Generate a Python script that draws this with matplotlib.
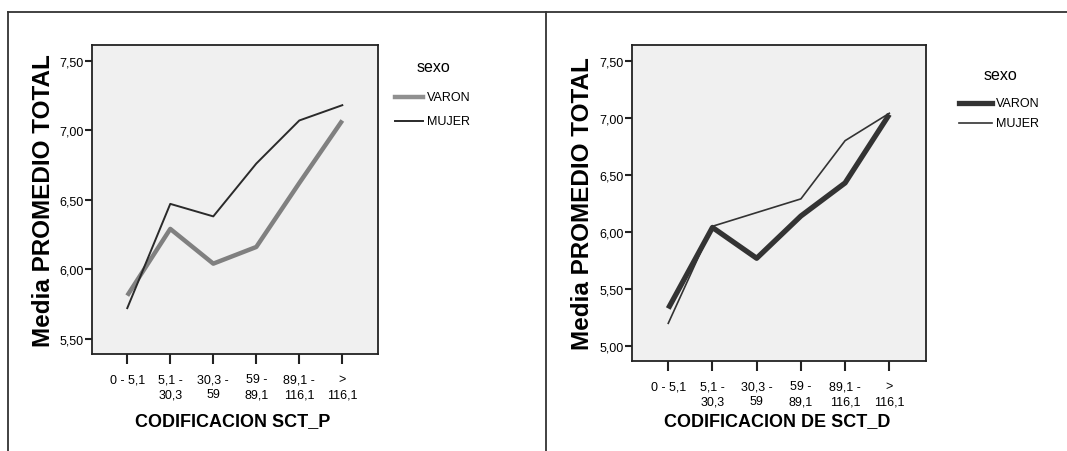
import matplotlib
matplotlib.use("Agg")
import matplotlib.pyplot as plt
from matplotlib.lines import Line2D

plt.rcParams['font.family'] = ['Liberation Sans', 'DejaVu Sans']

# categorias del eje x (iguales en los dos graficos)
categorias = ['0 - 5,1', '5,1 -\n30,3', '30,3 -\n59', '59 -\n89,1', '89,1 -\n116,1', '>\n116,1']
sexos = ['VARON', 'MUJER']

varon_p = [5.81, 6.29, 6.04, 6.16, 6.62, 7.07]
mujer_p = [5.72, 6.47, 6.38, 6.76, 7.07, 7.18]
yticks_p = [5.50, 6.00, 6.50, 7.00, 7.50]

varon_d = [5.33, 6.04, 5.77, 6.14, 6.43, 7.03]
mujer_d = [5.20, 6.05, 6.17, 6.29, 6.80, 7.04]
yticks_d = [5.00, 5.50, 6.00, 6.50, 7.00, 7.50]

W, H = 1067, 452
fig = plt.figure(figsize=(W / 100, H / 100), dpi=100)


def px_axes(x0, y0, x1, y1):
    return fig.add_axes([x0 / W, 1 - y1 / H, (x1 - x0) / W, (y1 - y0) / H])


def estilo(ax, yticks, ylim, xlabel, xl, yl):
    ax.set_facecolor('#f0f0f0')
    for s in ax.spines.values():
        s.set_linewidth(1.3)
        s.set_color('#222222')
    x = range(len(categorias))
    ax.set_xticks(list(x))
    ax.set_xticklabels(categorias, fontsize=9, linespacing=1.3)
    ax.set_yticks(yticks)
    ax.set_yticklabels([('%.2f' % v).replace('.', ',') for v in yticks], fontsize=9)
    ax.set_xlim(-0.82, 5.83)
    ax.set_ylim(*ylim)
    ax.tick_params(axis='x', length=7, width=1.5, pad=7, color='#222222')
    ax.tick_params(axis='y', length=5, width=1.5, pad=1, color='#222222')
    ax.set_ylabel('Media PROMEDIO TOTAL', fontsize=17.5, fontweight='bold', va='center')
    ax.set_xlabel(xlabel, fontsize=13, fontweight='bold', va='center')
    ax.xaxis.set_label_coords(*xl)
    ax.yaxis.set_label_coords(*yl)


def leyenda(handles, tx, ty, lx0, lx1, ys):
    # leyenda dibujada en pixeles de la figura
    fig.text(tx / W, 1 - ty / H, 'sexo', fontsize=11.5, ha='center', va='center')
    for h, nombre, y in zip(handles, sexos, ys):
        h.set_data([lx0 / W, lx1 / W], [1 - y / H, 1 - y / H])
        h.set_transform(fig.transFigure)
        fig.add_artist(h)
        fig.text((lx1 + 4) / W, 1 - y / H, nombre, fontsize=9, ha='left', va='center')


# grafico izquierdo
ax1 = px_axes(92, 46, 378, 355)
x = range(len(categorias))
ax1.plot(x, varon_p, color='#808080', lw=3.2, solid_capstyle='butt')
ax1.plot(x, mujer_p, color='#2a2a2a', lw=1.4)
estilo(ax1, yticks_p, (5.39, 7.613), 'CODIFICACION SCT_P', (0.493, -0.217), (-0.171, 0.5))
leyenda([Line2D([], [], color='#909090', lw=3.2), Line2D([], [], color='#2a2a2a', lw=1.4)],
        433, 68, 395, 423, [98, 122])

# grafico derecho
ax2 = px_axes(632, 46, 926, 362)
ax2.plot(x, varon_d, color='#333333', lw=3.8, solid_capstyle='butt')
ax2.plot(x, mujer_d, color='#333333', lw=1.2)
estilo(ax2, yticks_d, (4.87, 7.638), 'CODIFICACION DE SCT_D', (0.493, -0.19), (-0.167, 0.5))
leyenda([Line2D([], [], color='#333333', lw=3.8), Line2D([], [], color='#333333', lw=1.2)],
        1000, 76, 959, 992, [104, 124])

# marco de la figura
fig.add_artist(Line2D([7.5 / W, 7.5 / W], [0, 1 - 12.5 / H], color='#333333', lw=1.3, transform=fig.transFigure))
fig.add_artist(Line2D([546 / W, 546 / W], [0, 1 - 12.5 / H], color='#333333', lw=1.3, transform=fig.transFigure))
fig.add_artist(Line2D([7.5 / W, 1], [1 - 12.5 / H, 1 - 12.5 / H], color='#333333', lw=1.3, transform=fig.transFigure))

fig.savefig('out.png', dpi=100)
